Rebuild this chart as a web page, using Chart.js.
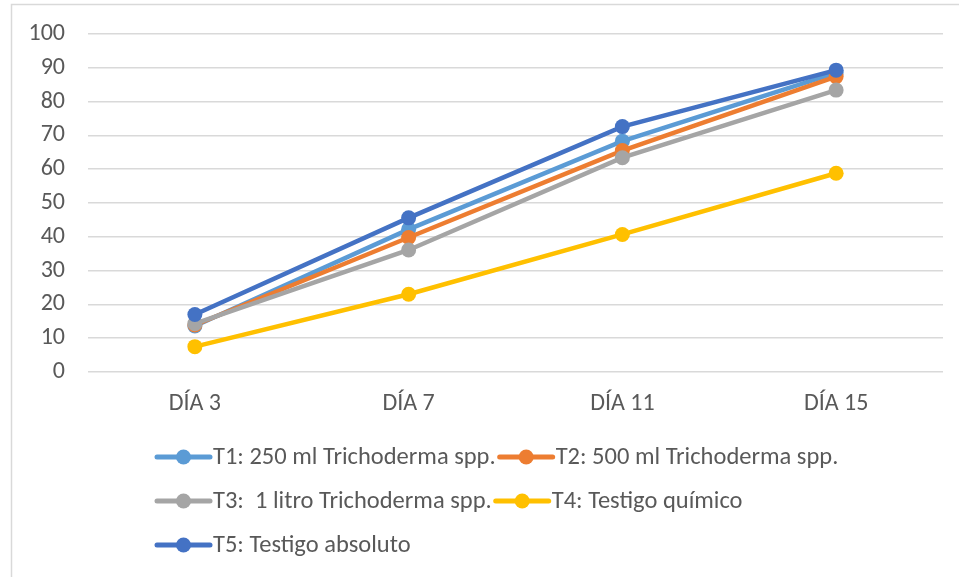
<!DOCTYPE html>
<html>
<head>
<meta charset="utf-8">
<script src="https://cdn.jsdelivr.net/npm/chart.js@4.4.1/dist/chart.umd.min.js"></script>
<style>
  html, body { margin: 0; padding: 0; background: #fff; }
  #wrap { width: 959px; height: 577px; position: relative; }
</style>
</head>
<body>
<div id="wrap"><canvas id="grafico"></canvas></div>
<script>
// datos
const dias = ["DÍA 3", "DÍA 7", "DÍA 11", "DÍA 15"];
const t1 = [13.6, 42.2, 68.3, 88.5];
const t2 = [13.9, 39.8, 65.5, 87.4];
const t3 = [14.3, 36.1, 63.4, 83.4];
const t4 = [7.5, 23.0, 40.7, 58.8];
const t5 = [17.0, 45.6, 72.6, 89.3];
const nombres = [
  "T1: 250 ml Trichoderma spp.",
  "T2: 500 ml Trichoderma spp.",
  "T3:  1 litro Trichoderma spp.",
  "T4: Testigo químico",
  "T5: Testigo absoluto"
];
const colores = ["#5B9BD5", "#ED7D31", "#A5A5A5", "#FFC000", "#4472C4"];
const series = [t1, t2, t3, t4, t5];

const fuente = "Carlito, Calibri, 'Open Sans', sans-serif";
const gris = "#595959";

// marco y leyenda (linea + punto) dibujados a mano
const extras = {
  id: "extras",
  beforeDraw(chart) {
    const c = chart.ctx;
    c.save();
    c.strokeStyle = "#d9d9d9";
    c.lineWidth = 1.5;
    c.beginPath();
    c.moveTo(11.5, 600);
    c.lineTo(11.5, 4.5);
    c.lineTo(970, 4.5);
    c.stroke();
    c.restore();
  },
  afterDraw(chart) {
    const c = chart.ctx;
    c.save();
    c.font = "24.5px " + fuente;
    c.textBaseline = "middle";
    c.textAlign = "left";
    let x = 155, y = 457;
    chart.data.datasets.forEach((ds, i) => {
      const w = 58 + c.measureText(ds.label).width;
      if (i > 0 && x + w > 900) { x = 155; y += 44; }
      c.strokeStyle = ds.borderColor;
      c.fillStyle = ds.borderColor;
      c.lineWidth = 5;
      c.lineCap = "round";
      c.beginPath();
      c.moveTo(x + 2, y);
      c.lineTo(x + 55, y);
      c.stroke();
      c.beginPath();
      c.arc(x + 28.5, y, 7.5, 0, Math.PI * 2);
      c.fill();
      c.fillStyle = gris;
      c.fillText(ds.label, x + 58, y + 1);
      x += w + 2;
    });
    c.restore();
  }
};

new Chart(document.getElementById("grafico"), {
  type: "line",
  data: {
    labels: dias,
    datasets: series.map((s, i) => ({
      label: nombres[i],
      data: s,
      borderColor: colores[i],
      backgroundColor: colores[i],
      borderWidth: 4.5,
      pointRadius: 7.5,
      pointHoverRadius: 7.5,
      pointBorderWidth: 0,
      tension: 0,
      order: 5 - i
    }))
  },
  options: {
    responsive: true,
    maintainAspectRatio: false,
    animation: false,
    layout: { padding: { left: 0, top: 34, right: 16, bottom: 142 } },
    scales: {
      x: {
        offset: true,
        grid: { display: false, drawTicks: false },
        border: { display: false },
        ticks: { color: gris, font: { family: fuente, size: 24 }, padding: 18 },
        afterFit(scale) { scale.height = 63; }
      },
      y: {
        min: 0,
        max: 100,
        ticks: { stepSize: 10, color: gris, font: { family: fuente, size: 24 }, padding: 3 },
        // marcas invisibles: solo separan las etiquetas de la rejilla
        grid: { color: "#d9d9d9", lineWidth: 1.5, drawTicks: true, tickLength: 20, tickColor: "rgba(0,0,0,0)" },
        border: { display: false },
        afterFit(scale) { scale.width = 88; }
      }
    },
    plugins: {
      legend: { display: false },
      tooltip: { enabled: false }
    }
  },
  plugins: [extras]
});
</script>
</body>
</html>
